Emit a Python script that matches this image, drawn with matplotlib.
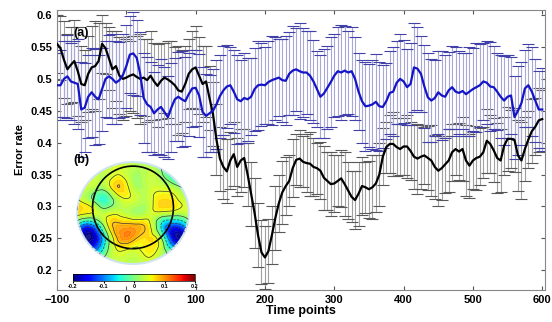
import numpy as np
import matplotlib
matplotlib.use('Agg')
import matplotlib.pyplot as plt
import matplotlib.tri as mtri
from matplotlib.patches import Circle, Ellipse
import matplotlib.colors as mcolors

plt.rcParams['font.family'] = ['Liberation Sans', 'DejaVu Sans']
plt.rcParams['font.weight'] = 'bold'

time = np.arange(-100, 601, 5)

# black curve (mean error rate) and its error bars
black_mean = [0.555, 0.548, 0.530, 0.515, 0.522, 0.528, 0.512, 0.492, 0.490, 0.508,
              0.518, 0.520, 0.528, 0.555, 0.548, 0.532, 0.515, 0.520, 0.505, 0.500,
              0.502, 0.505, 0.507, 0.503, 0.500, 0.502, 0.498, 0.505, 0.496, 0.489,
              0.497, 0.502, 0.499, 0.495, 0.490, 0.482, 0.480, 0.492, 0.508, 0.515,
              0.518, 0.505, 0.492, 0.496, 0.470, 0.445, 0.405, 0.375, 0.362, 0.355,
              0.372, 0.382, 0.362, 0.372, 0.376, 0.350, 0.320, 0.290, 0.255, 0.228,
              0.220, 0.230, 0.255, 0.282, 0.305, 0.322, 0.332, 0.340, 0.360, 0.373,
              0.375, 0.370, 0.368, 0.367, 0.362, 0.360, 0.356, 0.345, 0.340, 0.335,
              0.336, 0.340, 0.344, 0.335, 0.325, 0.315, 0.310, 0.320, 0.332, 0.330,
              0.327, 0.330, 0.336, 0.350, 0.378, 0.393, 0.398, 0.398, 0.393, 0.390,
              0.394, 0.394, 0.387, 0.378, 0.375, 0.378, 0.380, 0.376, 0.372, 0.362,
              0.356, 0.360, 0.366, 0.372, 0.385, 0.390, 0.386, 0.390, 0.372, 0.364,
              0.372, 0.376, 0.378, 0.385, 0.403, 0.398, 0.388, 0.376, 0.372, 0.395,
              0.406, 0.406, 0.404, 0.380, 0.372, 0.390, 0.405, 0.418, 0.425, 0.435, 0.437]
black_err = [0.045, 0.05, 0.06, 0.055, 0.06, 0.065, 0.07, 0.06, 0.055, 0.06,
             0.065, 0.07, 0.06, 0.045, 0.04, 0.05, 0.06, 0.055, 0.06, 0.065,
             0.06, 0.055, 0.06, 0.065, 0.07, 0.06, 0.065, 0.07, 0.06, 0.065,
             0.06, 0.055, 0.06, 0.065, 0.06, 0.07, 0.065, 0.06, 0.055, 0.06,
             0.065, 0.06, 0.06, 0.055, 0.05, 0.05, 0.055, 0.05, 0.05, 0.05,
             0.045, 0.05, 0.045, 0.05, 0.045, 0.05, 0.05, 0.055, 0.05, 0.05,
             0.05, 0.05, 0.045, 0.05, 0.045, 0.05, 0.045, 0.04, 0.045, 0.04,
             0.045, 0.04, 0.045, 0.05, 0.045, 0.04, 0.045, 0.05, 0.045, 0.05,
             0.045, 0.04, 0.045, 0.05, 0.045, 0.04, 0.045, 0.05, 0.045, 0.04,
             0.045, 0.05, 0.045, 0.05, 0.045, 0.04, 0.045, 0.05, 0.045, 0.04,
             0.045, 0.05, 0.045, 0.05, 0.055, 0.05, 0.045, 0.05, 0.055, 0.05,
             0.055, 0.05, 0.045, 0.05, 0.045, 0.04, 0.045, 0.05, 0.055, 0.05,
             0.045, 0.05, 0.045, 0.04, 0.05, 0.045, 0.05, 0.055, 0.05, 0.045,
             0.05, 0.045, 0.05, 0.055, 0.06, 0.05, 0.045, 0.05, 0.045, 0.05, 0.045]

# blue curve
blue_mean = [0.490, 0.490, 0.500, 0.504, 0.496, 0.494, 0.492, 0.452, 0.455, 0.472,
             0.479, 0.472, 0.468, 0.484, 0.500, 0.504, 0.500, 0.494, 0.498, 0.506,
             0.520, 0.538, 0.540, 0.533, 0.508, 0.470, 0.460, 0.456, 0.446, 0.452,
             0.456, 0.448, 0.440, 0.455, 0.468, 0.472, 0.468, 0.465, 0.476, 0.485,
             0.486, 0.474, 0.448, 0.442, 0.446, 0.450, 0.460, 0.473, 0.482, 0.488,
             0.490, 0.480, 0.468, 0.465, 0.470, 0.468, 0.472, 0.484, 0.490, 0.491,
             0.490, 0.495, 0.498, 0.500, 0.502, 0.498, 0.497, 0.508, 0.513, 0.515,
             0.512, 0.510, 0.510, 0.505, 0.496, 0.484, 0.472, 0.477, 0.486, 0.495,
             0.505, 0.512, 0.510, 0.513, 0.510, 0.512, 0.500, 0.480, 0.465, 0.457,
             0.458, 0.460, 0.464, 0.457, 0.456, 0.465, 0.478, 0.480, 0.494, 0.500,
             0.496, 0.487, 0.492, 0.518, 0.516, 0.508, 0.488, 0.471, 0.466, 0.470,
             0.479, 0.474, 0.472, 0.482, 0.487, 0.480, 0.478, 0.481, 0.476, 0.480,
             0.484, 0.487, 0.490, 0.496, 0.494, 0.488, 0.487, 0.480, 0.472, 0.466,
             0.472, 0.474, 0.440, 0.450, 0.462, 0.485, 0.490, 0.480, 0.466, 0.452, 0.452]
blue_err = [0.05, 0.055, 0.06, 0.065, 0.06, 0.065, 0.07, 0.075, 0.07, 0.065,
            0.07, 0.075, 0.07, 0.065, 0.06, 0.065, 0.07, 0.065, 0.06, 0.065,
            0.065, 0.06, 0.065, 0.06, 0.065, 0.07, 0.075, 0.07, 0.065, 0.07,
            0.075, 0.07, 0.065, 0.07, 0.065, 0.07, 0.075, 0.07, 0.065, 0.06,
            0.06, 0.065, 0.07, 0.065, 0.06, 0.065, 0.07, 0.065, 0.07, 0.065,
            0.06, 0.065, 0.07, 0.065, 0.07, 0.065, 0.06, 0.065, 0.07, 0.065,
            0.06, 0.065, 0.07, 0.065, 0.06, 0.065, 0.07, 0.065, 0.07, 0.065,
            0.075, 0.07, 0.065, 0.07, 0.065, 0.06, 0.065, 0.07, 0.065, 0.07,
            0.065, 0.07, 0.075, 0.07, 0.065, 0.07, 0.065, 0.06, 0.065, 0.07,
            0.065, 0.07, 0.075, 0.07, 0.065, 0.06, 0.065, 0.07, 0.065, 0.07,
            0.065, 0.06, 0.065, 0.07, 0.065, 0.06, 0.065, 0.07, 0.065, 0.06,
            0.065, 0.07, 0.065, 0.06, 0.065, 0.07, 0.065, 0.06, 0.065, 0.07,
            0.065, 0.07, 0.065, 0.06, 0.065, 0.07, 0.065, 0.06, 0.065, 0.07,
            0.065, 0.06, 0.065, 0.07, 0.065, 0.06, 0.065, 0.07, 0.065, 0.06, 0.065]

# scalp map values on a 9x9 grid (rows top->bottom, cols left->right)
topo = [[0.03, 0.03, 0.04, 0.04, 0.03, 0.02, 0.00, -0.06, -0.07],
        [0.04, 0.04, 0.03, 0.05, 0.02, 0.03, 0.01, -0.06, -0.07],
        [0.04, 0.03, 0.02, 0.08, 0.03, 0.03, 0.04, 0.02, -0.02],
        [0.06, 0.01, -0.04, 0.03, 0.04, 0.03, 0.07, 0.06, 0.03],
        [0.07, 0.05, 0.03, 0.04, 0.02, 0.03, 0.04, 0.03, 0.04],
        [-0.06, -0.12, 0.02, 0.09, 0.09, 0.07, -0.05, -0.13, -0.05],
        [-0.15, -0.20, -0.05, 0.09, 0.09, 0.07, 0.01, -0.18, -0.12],
        [-0.10, -0.12, -0.02, 0.05, 0.04, 0.06, 0.03, -0.05, -0.06],
        [0.02, 0.03, 0.03, 0.03, 0.03, 0.03, 0.03, 0.03, 0.02]]
cbar_ticks = [-0.2, -0.1, 0, 0.1, 0.2]

fig = plt.figure(figsize=(5.52, 3.22), dpi=100)
ax = fig.add_axes([57/552, 1-290/322, 488/552, 280/322])

eb = ax.errorbar(time, black_mean, yerr=black_err, fmt='none', ecolor='#a0a0a0',
                 elinewidth=0.8, capsize=4.5, capthick=0.8, zorder=1)
for c in eb[1]:
    c.set_markeredgecolor('#585858')
eb2 = ax.errorbar(time, blue_mean, yerr=blue_err, fmt='none', ecolor='#a8a8d8',
                  elinewidth=0.8, capsize=4.5, capthick=0.8, zorder=2)
for c in eb2[1]:
    c.set_markeredgecolor('#4040a8')
ax.plot(time, black_mean, color='black', lw=1.6, zorder=3)
ax.plot(time, blue_mean, color='#1414c8', lw=1.6, zorder=4)

ax.set_xlim(-100, 604)
ax.set_ylim(0.169, 0.608)
ax.set_xticks(range(-100, 601, 100))
ax.set_yticks([0.2, 0.25, 0.3, 0.35, 0.4, 0.45, 0.5, 0.55, 0.6])
ax.set_yticklabels(['0.2', '0.25', '0.3', '0.35', '0.4', '0.45', '0.5', '0.55', '0.6'])
ax.tick_params(direction='in', top=True, right=True, labelsize=8, length=3,
               color='#555555')
for s in ax.spines.values():
    s.set_color('#888888')
ax.set_xlabel('Time points', fontsize=9, fontweight='bold', labelpad=0)
ax.set_ylabel('Error rate', fontsize=8, fontweight='bold', labelpad=4)
ax.text(-77, 0.568, '(a)', fontsize=9, fontweight='bold', zorder=5)

# inset scalp map
ins = fig.add_axes([75/552, 1-266/322, 116/552, 106/322], zorder=5)
ins.axis('off')
ins.set_xlim(-1.04, 1.04)
ins.set_ylim(1.04, -1.04)
Z = np.array(topo)
g = np.linspace(-1, 1, 9)
U, V = np.meshgrid(g, g)
tri = mtri.Triangulation(U.ravel(), V.ravel())
tri_r, z_r = mtri.UniformTriRefiner(tri).refine_field(Z.ravel(), subdiv=4)
norm = mcolors.Normalize(-0.2, 0.2)
disk = Circle((0, 0), 1.0, transform=ins.transData)
cf = ins.tricontourf(tri_r, z_r, levels=np.linspace(-0.25, 0.25, 51), cmap='jet',
                     norm=norm, alpha=0.9)
cf.set_clip_path(disk)
cs = ins.tricontour(tri_r, z_r, levels=[-0.15, -0.1, -0.05, 0.0, 0.05, 0.08],
                    colors='#3a3a3a', linewidths=0.5)
cs.set_clip_path(disk)
ins.add_patch(Circle((0, 0), 1.0, fill=False, ec='#cfe4f0', lw=1.5))
ins.add_patch(Ellipse((0, -0.11), 1.45, 1.62, fill=False, ec='black', lw=1.2))
ax.text(-77, 0.368, '(b)', fontsize=9, fontweight='bold', zorder=6)

cax = fig.add_axes([73/552, 1-281/322, 122/552, 7/322], zorder=6)
sm = plt.cm.ScalarMappable(norm=norm, cmap='jet')
cb = fig.colorbar(sm, cax=cax, orientation='horizontal', ticks=cbar_ticks)
cb.ax.tick_params(labelsize=4, length=1.5, pad=1)
cb.ax.set_xticklabels(['-0.2', '-0.1', '0', '0.1', '0.2'])
cb.outline.set_linewidth(0.5)

fig.savefig('out.png', dpi=100)
